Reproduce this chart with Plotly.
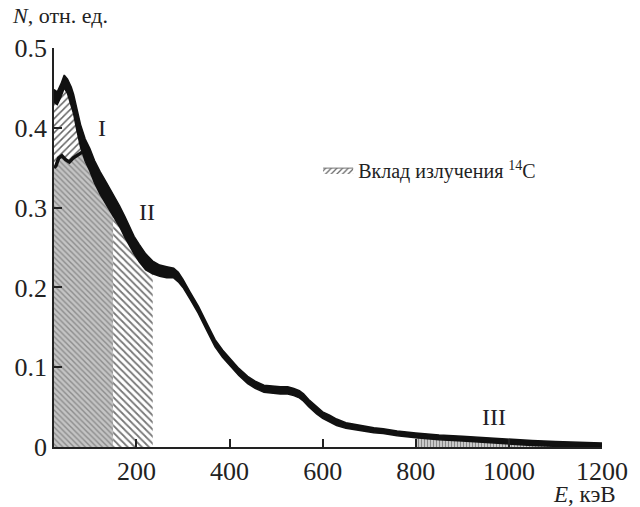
import plotly.graph_objects as go
import numpy as np

# Spectrum (centre of the noisy band)
E = [23, 30, 38, 45, 52, 60, 65, 72, 80, 90, 100, 110, 122, 135, 150, 164, 175, 185, 195, 206,
     220, 235, 250, 265, 280, 290, 300, 315, 333, 350, 369, 385, 404, 420, 439, 455, 474, 490,
     509, 525, 538, 550, 559, 570, 587, 600, 615, 630, 650, 670, 686, 710, 730, 760, 800, 850,
     900, 950, 1000, 1050, 1100, 1150, 1200]
N = [0.440, 0.437, 0.447, 0.458, 0.452, 0.440, 0.430, 0.410, 0.390, 0.372, 0.360, 0.345, 0.331,
     0.318, 0.303, 0.289, 0.276, 0.264, 0.253, 0.243, 0.232, 0.225, 0.221, 0.219, 0.218, 0.213,
     0.205, 0.190, 0.172, 0.152, 0.130, 0.117, 0.105, 0.094, 0.084, 0.078, 0.073, 0.072, 0.071,
     0.071, 0.069, 0.066, 0.062, 0.055, 0.046, 0.040, 0.036, 0.031, 0.027, 0.025, 0.023, 0.021,
     0.020, 0.017, 0.0145, 0.012, 0.0105, 0.0085, 0.0067, 0.005, 0.0038, 0.0028, 0.002]
# Noise half-width of the band
N_noise = [0.008, 0.008, 0.008, 0.008, 0.009, 0.011, 0.012, 0.013, 0.014, 0.014, 0.014, 0.014,
           0.014, 0.014, 0.014, 0.013, 0.013, 0.012, 0.011, 0.011, 0.010, 0.008, 0.007, 0.007,
           0.006, 0.006, 0.005, 0.0045, 0.0045, 0.0045, 0.0045, 0.0045, 0.0045, 0.0045, 0.0045,
           0.0045, 0.0045, 0.0045, 0.0045, 0.0045, 0.0045, 0.0045, 0.0045, 0.0045, 0.0045, 0.004,
           0.004, 0.004, 0.0035, 0.0035, 0.0035, 0.003, 0.003, 0.003, 0.003, 0.003, 0.003, 0.003,
           0.003, 0.003, 0.003, 0.003, 0.003]

# Lower spectrum (boundary of region I)
E_low = [23, 27, 33, 40, 48, 56, 64, 72, 80, 90]
N_low = [0.350, 0.352, 0.362, 0.365, 0.360, 0.357, 0.362, 0.365, 0.368, 0.372]

# Region limits (keV)
reg_A = (23, 150)
reg_I = (23, 90)
reg_II = (150, 235)
reg_III = (800, 1200)

labels = [("I", 126, 0.400), ("II", 223, 0.295), ("III", 967, 0.038)]
legend_text = "Вклад излучения <sup>14</sup>C"
xticks = [200, 400, 600, 800, 1000, 1200]
yticks = [0, 0.1, 0.2, 0.3, 0.4, 0.5]
ytick_text = ["0", "0.1", "0.2", "0.3", "0.4", "0.5"]

FONT = "Liberation Serif"
E_a = np.array(E, float)
N_a = np.array(N, float)
S_a = np.array(N_noise, float)


def under(lo, hi):
    m = (E_a >= lo) & (E_a <= hi)
    xs = E_a[m]
    ys = N_a[m]
    return list(xs) + [xs[-1], xs[0]], list(ys) + [0, 0]


fig = go.Figure()

# Region A: dense grey hatch under the lower boundary (lower spectrum, then main spectrum)
mA = (E_a > reg_I[1]) & (E_a <= reg_A[1])
xa = list(E_low) + list(E_a[mA])
ya = list(N_low) + list(N_a[mA])
fig.add_trace(go.Scatter(x=xa + [xa[-1], xa[0]], y=ya + [0, 0], fill="toself", mode="lines",
                         line=dict(width=0), showlegend=False, hoverinfo="skip",
                         fillpattern=dict(shape="\\", bgcolor="#c4c4c4", fgcolor="#8c8c8c",
                                          size=4, solidity=0.35, fillmode="replace")))

# Region I: between lower and upper spectra
mI = (E_a >= reg_I[0]) & (E_a <= reg_I[1])
xi = list(E_a[mI]) + list(E_low[::-1])
yi = list(N_a[mI]) + list(N_low[::-1])
fig.add_trace(go.Scatter(x=xi, y=yi, fill="toself", mode="lines", line=dict(width=0),
                         showlegend=False, hoverinfo="skip",
                         fillpattern=dict(shape="/", bgcolor="white", fgcolor="#666666",
                                          size=5, solidity=0.3, fillmode="replace")))

# Region II
x2, y2 = under(*reg_II)
fig.add_trace(go.Scatter(x=x2, y=y2, fill="toself", mode="lines", line=dict(width=0),
                         showlegend=False, hoverinfo="skip",
                         fillpattern=dict(shape="\\", bgcolor="white", fgcolor="#777777",
                                          size=5, solidity=0.35, fillmode="replace")))

# Region III
x3, y3 = under(*reg_III)
fig.add_trace(go.Scatter(x=x3, y=y3, fill="toself", mode="lines", line=dict(width=0),
                         showlegend=False, hoverinfo="skip",
                         fillpattern=dict(shape="|", bgcolor="#d0d0d0", fgcolor="#888888",
                                          size=3, solidity=0.4, fillmode="replace")))

# Noisy spectrum band
fig.add_trace(go.Scatter(x=E, y=list(N_a + S_a), mode="lines", line=dict(color="#111", width=1.5),
                         showlegend=False, hoverinfo="skip"))
fig.add_trace(go.Scatter(x=E, y=list(N_a - S_a), mode="lines", line=dict(color="#111", width=1.5),
                         fill="tonexty", fillcolor="#111", showlegend=False, hoverinfo="skip"))
# Lower spectrum line
fig.add_trace(go.Scatter(x=E_low, y=N_low, mode="lines", line=dict(color="#111", width=3.5),
                         showlegend=False, hoverinfo="skip"))

# Legend entry
fig.add_trace(go.Scatter(x=[None], y=[None], fill="toself", mode="lines",
                         line=dict(color="#777", width=1), name=legend_text,
                         fillpattern=dict(shape="/", bgcolor="white", fgcolor="#666666",
                                          size=4, solidity=0.3, fillmode="replace")))

for t, x, y in labels:
    fig.add_annotation(x=x, y=y, text=t, showarrow=False,
                       font=dict(family=FONT, size=24, color="#222"))

fig.add_annotation(xref="paper", yref="paper", x=-0.081, y=1.045, xanchor="left", yanchor="bottom",
                   text="<i>N</i>, отн. ед.", showarrow=False,
                   font=dict(family=FONT, size=22, color="#222"))
fig.add_annotation(xref="paper", yref="paper", x=1.03, y=-0.12, xanchor="right", yanchor="middle",
                   text="<i>E</i>, кэВ", showarrow=False,
                   font=dict(family=FONT, size=23, color="#222"))

fig.update_xaxes(range=[23, 1200], tickvals=xticks, showgrid=False, zeroline=False,
                 showline=True, linecolor="#222", linewidth=1.5, ticks="inside", ticklen=8,
                 tickwidth=1.5, tickcolor="#222",
                 tickfont=dict(family=FONT, size=26, color="#222"))
fig.update_yaxes(range=[0, 0.5], tickvals=yticks, ticktext=ytick_text, showgrid=False,
                 zeroline=False, showline=True, linecolor="#222", linewidth=1.5, ticks="inside",
                 ticklen=8, tickwidth=1.5, tickcolor="#222",
                 tickfont=dict(family=FONT, size=26, color="#222"))

fig.update_layout(width=640, height=507, margin=dict(l=54, r=30, t=48, b=60),
                  plot_bgcolor="white", paper_bgcolor="white",
                  legend=dict(x=0.482, y=0.694, xanchor="left", yanchor="middle",
                              bgcolor="rgba(0,0,0,0)",
                              font=dict(family=FONT, size=20, color="#222")))

fig.write_html("out.html")
